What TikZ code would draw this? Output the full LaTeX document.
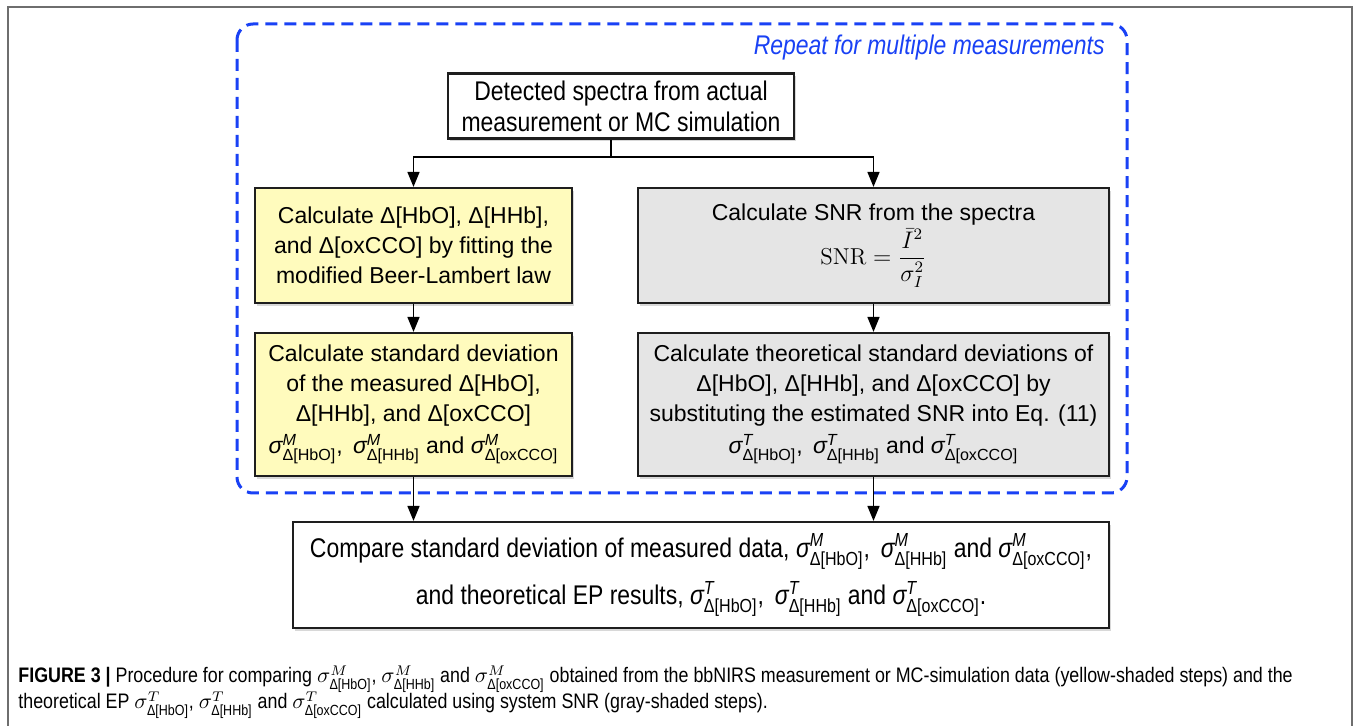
\documentclass[tikz,border=0pt]{standalone}
\usepackage{amsmath}
\usepackage{fontspec}
\newfontfamily\hv{Liberation Sans}
\newfontfamily\hvc{Liberation Sans}[FakeStretch=0.85]
\usetikzlibrary{arrows.meta,shadows}
\definecolor{repblue}{RGB}{25,65,245}
\definecolor{yelfill}{RGB}{255,251,189}
\definecolor{grayfill}{RGB}{229,229,229}
\definecolor{framegray}{RGB}{110,110,110}
\definecolor{boxline}{RGB}{30,30,30}
\newcommand{\sgm}[2]{\ensuremath{\textit{σ}^{\textit{#1}}_{\text{Δ[#2]}}}}
\newcommand{\csg}[2]{\ensuremath{\sigma^{#1}_{\text{Δ[#2]}}}}
\tikzset{
  stepbox/.style={draw=boxline, line width=1.1pt, align=center, inner sep=2pt,
    drop shadow={shadow xshift=1pt, shadow yshift=-1.4pt, opacity=0.3}},
  yelbox/.style={stepbox, fill=yelfill, minimum width=158.5pt, font=\hv\fontsize{11.5}{15}\selectfont},
  graybox/.style={stepbox, fill=grayfill, minimum width=235.5pt, font=\hv\fontsize{11.5}{15}\selectfont},
  whitebox/.style={stepbox, fill=white, font=\hvc\fontsize{13.5}{15.5}\selectfont},
  conn/.style={line width=0.8pt, black},
  arr/.style={conn, -{Triangle[length=7.5pt,width=6pt]}},
}
\begin{document}
\begin{tikzpicture}[x=0.5pt,y=-0.5pt]
\useasboundingbox (0,0) rectangle (1356,726);
\fill[white] (0,0) rectangle (1356,726);
% outer frame
\draw[framegray, line width=1pt] (8,726) -- (8,7) -- (1352,7) -- (1352,726);
% repeat loop frame
\draw[repblue, line width=1.5pt, dash pattern=on 6pt off 3.5pt, rounded corners=8pt]
  (237,24) rectangle (1127,493);
\node[font=\hvc\itshape\fontsize{13.5}{15}\selectfont, text=repblue, anchor=base east, inner sep=0pt]
  (rep) at (1105,55) {Repeat for multiple measurements};
% nodes
\node[whitebox, minimum width=173pt, minimum height=32.5pt] (top) at (621,106)
  {Detected spectra from actual\\measurement or MC simulation};
\node[yelbox, minimum height=57.5pt] (y1) at (413.5,245.5)
  {Calculate Δ[HbO], Δ[HHb],\\and Δ[oxCCO] by fitting the\\modified Beer-Lambert law};
\node[graybox, minimum height=57.5pt] (g1) at (873.5,245.5)
  {Calculate SNR from the spectra\\[1pt] $\displaystyle \mathrm{SNR}=\frac{\bar{I}^{2}}{\sigma_{I}^{2}}$};
\node[yelbox, minimum height=71.5pt] (y2) at (413.5,404.5)
  {Calculate standard deviation\\of the measured Δ[HbO],\\Δ[HHb], and Δ[oxCCO]\\[1pt] \sgm{M}{HbO},\, \sgm{M}{HHb} and \sgm{M}{oxCCO}};
\node[graybox, minimum height=71.5pt] (g2) at (873.5,404.5)
  {Calculate theoretical standard deviations of\\Δ[HbO], Δ[HHb], and Δ[oxCCO] by\\substituting the estimated SNR into Eq. (11)\\[1pt] \sgm{T}{HbO},\, \sgm{T}{HHb} and \sgm{T}{oxCCO}};
\node[whitebox, minimum width=408pt, minimum height=53pt] (bot) at (701,575)
  {Compare standard deviation of measured data, \sgm{M}{HbO},\, \sgm{M}{HHb} and \sgm{M}{oxCCO},\\[5pt]
   and theoretical EP results, \sgm{T}{HbO},\, \sgm{T}{HHb} and \sgm{T}{oxCCO}.};
% connectors
\coordinate (split) at (611,157);
\draw[conn] (top.south -| split) -- (split);
\draw[arr] (split) -| (y1.north);
\draw[arr] (split) -| (g1.north);
\draw[arr] (y1.south) -- (y2.north);
\draw[arr] (g1.south) -- (g2.north);
\draw[arr] (y2.south) -- (y2.south |- bot.north);
\draw[arr] (g2.south) -- (g2.south |- bot.north);
% caption
\node[font=\hvc\fontsize{10.5}{13}\selectfont, anchor=base west, inner sep=0pt] (cap1) at (18,683)
  {\textbf{FIGURE 3 |} Procedure for comparing \csg{M}{HbO}, \csg{M}{HHb} and \csg{M}{oxCCO} obtained from the bbNIRS measurement or MC-simulation data (yellow-shaded steps) and the};
\node[font=\hvc\fontsize{10.5}{13}\selectfont, anchor=base west, inner sep=0pt] (cap2) at (18,709)
  {theoretical EP \csg{T}{HbO}, \csg{T}{HHb} and \csg{T}{oxCCO} calculated using system SNR (gray-shaded steps).};
\end{tikzpicture}
\end{document}
